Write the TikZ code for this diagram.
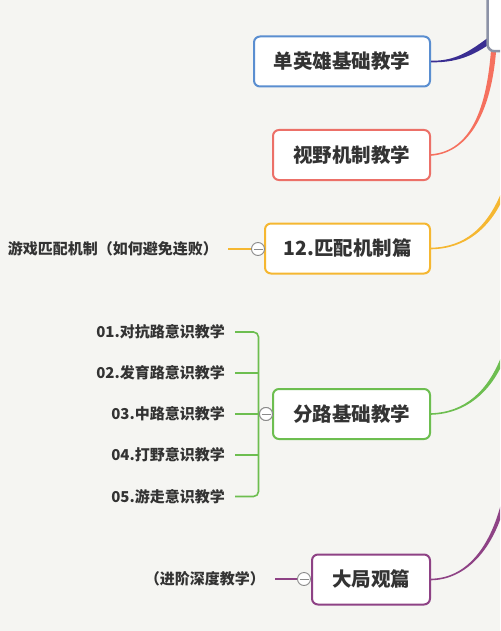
\documentclass[tikz,border=0pt]{standalone}
\usepackage{fontspec}
\newfontfamily\cjk{Noto Sans CJK SC}
\usetikzlibrary{calc}
\definecolor{bgc}{HTML}{F5F5F2}
\definecolor{txt}{HTML}{333333}
\definecolor{cblue}{HTML}{5A8ED0}
\definecolor{cblueline}{HTML}{3A2E92}
\definecolor{cred}{HTML}{EC7068}
\definecolor{credline}{HTML}{F5705E}
\definecolor{corange}{HTML}{F5B731}
\definecolor{cgreen}{HTML}{6DBE50}
\definecolor{cpurple}{HTML}{8E4285}
\definecolor{cgray}{HTML}{8C92A6}
\definecolor{cgrey}{HTML}{8A8A8A}
\newcommand\tapercon[6]{%
  \fill[#1] ($(#2)+(0,-0.8)$) .. controls ($(#3)+(0,-0.8)$) and ($(#4)-(#6)$) .. ($(#5)-(#6)$)
    -- ($(#5)+(#6)$) .. controls ($(#4)+(#6)$) and ($(#3)+(0,0.8)$) .. ($(#2)+(0,0.8)$) -- cycle;}
\tikzset{
  topic/.style={draw, line width=2pt, rounded corners=6pt, fill=white, text=txt,
    minimum height=50pt, inner xsep=0pt, anchor=east,
    font=\cjk\bfseries\fontsize{19.5}{20}\selectfont},
  leaf/.style={text=txt, anchor=east, inner xsep=10pt, inner ysep=2pt,
    font=\cjk\bfseries\fontsize{15}{16}\selectfont},
  fold/.style={circle, draw=cgrey, fill=white, line width=0.9pt, minimum size=13pt, inner sep=0pt,
    path picture={\draw[cgrey, line width=0.9pt]
      ([xshift=-4.5pt]path picture bounding box.center) -- ([xshift=4.5pt]path picture bounding box.center);}},
}
\begin{document}
\begin{tikzpicture}[x=1pt, y=-1pt]
\useasboundingbox (0,0) rectangle (500,631);
\clip (0,0) rectangle (500,631);
\fill[bgc] (0,0) rectangle (500,631);

% topic nodes
\node[topic, draw=cblue, minimum width=176pt] (t1) at (431,61.5) {单英雄基础教学};
\node[topic, draw=cred, minimum width=157pt] (t2) at (431,155) {视野机制教学};
\node[topic, draw=corange, minimum width=165pt] (t3) at (431,248.5) {12.匹配机制篇};
\node[topic, draw=cgreen, minimum width=157pt] (t4) at (431,414) {分路基础教学};
\node[topic, draw=cpurple, minimum width=118pt] (t5) at (431,579.5) {大局观篇};

% connector end points
\coordinate (e1) at (490,40);
\coordinate (e2) at (494,44);
\coordinate (e3) at (502,196);
\coordinate (e4) at (504,355);
\coordinate (e5) at (504,500);

\tapercon{cblueline}{t1.east}{455,62}{471,54}{e1}{1.8,2.4}
\tapercon{credline}{t2.east}{470,152}{490,110}{e2}{2.6,0}
\tapercon{corange}{t3.east}{465,248}{488,228}{e3}{1.8,0.8}
\tapercon{cgreen}{t4.east}{465,413}{490,392}{e4}{1.8,0.8}
\tapercon{cpurple}{t5.east}{465,579}{492,550}{e5}{1.9,0.6}

% central node (partly outside)
\node[draw=cgray, line width=2.5pt, rounded corners=7pt, fill=white, minimum width=70pt,
  minimum height=90pt, anchor=north west, inner sep=0pt] (root) at (486.25,-40) {};

% 12. matching
\node[fold] (f3) at (258,249) {};
\node[leaf] (l3) at (228,249) {游戏匹配机制（如何避免连败）};
\draw[corange, line width=1.6pt] (l3.east) -- (f3.west);

% lanes
\node[fold] (f4) at (266,414) {};
\node[leaf, anchor=east, inner xsep=10pt] (c1) at (235,332) {01.对抗路意识教学};
\node[leaf] (c2) at (235,373) {02.发育路意识教学};
\node[leaf] (c3) at (235,414) {03.中路意识教学};
\node[leaf] (c4) at (235,455) {04.打野意识教学};
\node[leaf] (c5) at (235,496.5) {05.游走意识教学};
\coordinate (btop) at (258.5,332);
\coordinate (bbot) at (258.5,496.5);
\draw[cgreen, line width=1.6pt, rounded corners=5pt] (c1.east) -- (btop) -- (bbot) -- (c5.east);
\draw[cgreen, line width=1.6pt] (c2.east) -- (c2.east -| btop);
\draw[cgreen, line width=1.6pt] (c3.east) -- (c3.east -| btop);
\draw[cgreen, line width=1.6pt] (c4.east) -- (c4.east -| btop);
\node[fold] at (f4) {};

% big picture
\node[fold] (f5) at (304,579) {};
\node[leaf] (l5) at (275,579) {（进阶深度教学）};
\draw[cpurple, line width=1.6pt] (l5.east) -- (f5.west);
\end{tikzpicture}
\end{document}
